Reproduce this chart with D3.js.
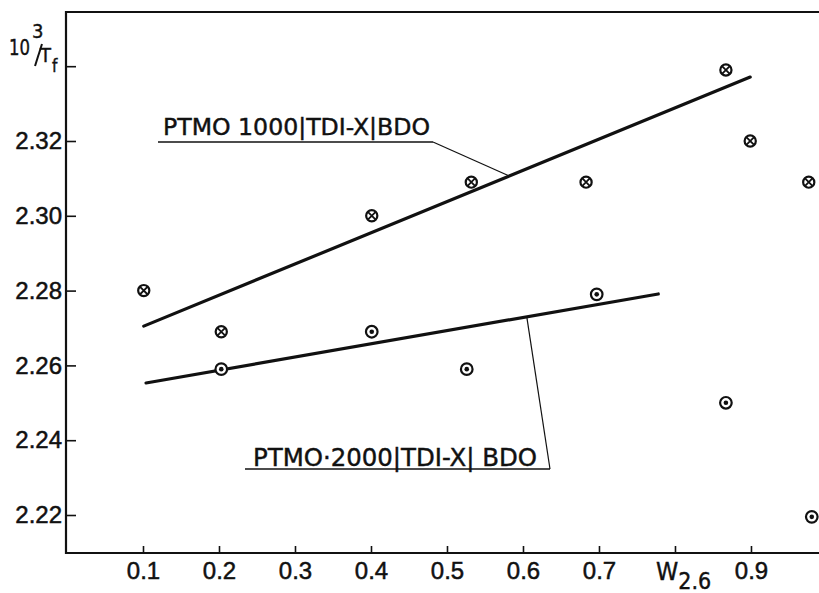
<!DOCTYPE html>
<html lang="en">
<head>
  <meta charset="utf-8">
  <title>PTMO chart</title>
  <script src="https://d3js.org/d3.v7.min.js"></script>
  <style>
  body { margin: 0; background: #fff; }
  svg { display: block; font-family: "DejaVu Sans Condensed", "Liberation Sans Narrow", "DejaVu Sans", sans-serif; }
  .tick text { font-size: 24px; fill: #111; stroke: #111; stroke-width: 0.5px; }
  .tick line { stroke: #111; stroke-width: 1.6px; }
  .frame { stroke: #111; stroke-width: 2.2px; fill: none; }
  .fit { stroke: #111; stroke-width: 3.2px; stroke-linecap: round; }
  .lead { stroke: #111; stroke-width: 1.2px; }
  .mark { fill: none; stroke: #111; stroke-width: 2.2px; }
  .lbl { font-size: 23px; fill: #111; stroke: #111; stroke-width: 0.4px; }
  </style>
</head>
<body>
<script>

// PTMO 1000 | TDI-X | BDO  (crossed circles)
var x1000 = [0.101, 0.203, 0.401, 0.532, 0.683, 0.867, 0.899, 0.976];
var y1000 = [2.280, 2.269, 2.300, 2.309, 2.309, 2.339, 2.320, 2.309];

// PTMO 2000 | TDI-X | BDO  (dotted circles)
var x2000 = [0.203, 0.401, 0.526, 0.697, 0.867, 0.980];
var y2000 = [2.259, 2.269, 2.259, 2.279, 2.250, 2.2195];

// fitted lines, start and end
var fitX1000 = [0.101, 0.899];
var fitY1000 = [2.2705, 2.3371];
var fitX2000 = [0.104, 0.778];
var fitY2000 = [2.2553, 2.2791];

var xTicks = [0.1, 0.2, 0.3, 0.4, 0.5, 0.6, 0.7, 0.8, 0.9];
var yTicks = [2.22, 2.24, 2.26, 2.28, 2.30, 2.32, 2.34];

var label1000 = "PTMO 1000|TDI-X|BDO";
var label2000 = "PTMO\u00B72000|TDI-X| BDO";

var width = 819, height = 593;

var x = d3.scaleLinear().domain([0, 0.9895]).range([67, 819]);
var y = d3.scaleLinear().domain([2.20984, 2.35449]).range([553, 12]);

var svg = d3.select("body").append("svg")
    .attr("width", width)
    .attr("height", height);

// axes
var yAxis = d3.axisLeft(y)
    .tickValues(yTicks)
    .tickSizeInner(-10)
    .tickSizeOuter(0)
    .tickPadding(4)
    .tickFormat(function(d) { return d > 2.335 ? "" : d3.format(".2f")(d); });

var xAxis = d3.axisBottom(x)
    .tickValues(xTicks)
    .tickSizeInner(-7)
    .tickSizeOuter(0)
    .tickPadding(9)
    .tickFormat(function(d) { return Math.abs(d - 0.8) < 1e-6 ? "" : d3.format(".1f")(d); });

svg.append("g").attr("transform", "translate(66,0)").call(yAxis)
    .call(function(g) { g.select(".domain").remove(); });
svg.append("g").attr("transform", "translate(0,553)").call(xAxis)
    .call(function(g) { g.select(".domain").remove(); });

// frame: top, left, bottom
svg.append("path").attr("class", "frame")
    .attr("d", "M819,12H66V553H819");

// axis titles
var wt = svg.append("text").attr("class", "lbl")
    .attr("x", 656).attr("y", 580).style("font-size", "25px");
wt.append("tspan").text("W");
wt.append("tspan").attr("dy", 9).style("font-size", "23px").text("2.6");

var yt = svg.append("g");
yt.append("text").attr("class", "lbl").attr("x", 9).attr("y", 55).style("font-size", "22px")
    .attr("textLength", 21).attr("lengthAdjust", "spacingAndGlyphs").text("10");
yt.append("text").attr("class", "lbl").attr("x", 32).attr("y", 38).style("font-size", "20px").text("3");
yt.append("line").attr("class", "lead").style("stroke-width", 2)
    .attr("x1", 35).attr("y1", 66).attr("x2", 42).attr("y2", 44);
yt.append("text").attr("class", "lbl").attr("x", 40).attr("y", 62).style("font-size", "20px").text("T");
yt.append("text").attr("class", "lbl").attr("x", 52).attr("y", 72).style("font-size", "17px").text("f");

// fitted lines
svg.append("line").attr("class", "fit")
    .attr("x1", x(fitX1000[0])).attr("y1", y(fitY1000[0]))
    .attr("x2", x(fitX1000[1])).attr("y2", y(fitY1000[1]));
svg.append("line").attr("class", "fit")
    .attr("x1", x(fitX2000[0])).attr("y1", y(fitY2000[0]))
    .attr("x2", x(fitX2000[1])).attr("y2", y(fitY2000[1]));

// crossed circles
var d1 = x1000.map(function(v, i) { return [v, y1000[i]]; });
var g1 = svg.selectAll(".p1").data(d1).enter().append("g")
    .attr("class", "p1")
    .attr("transform", function(d) { return "translate(" + x(d[0]) + "," + y(d[1]) + ")"; });
g1.append("circle").attr("class", "mark").attr("r", 5.6).style("fill", "#fff");
g1.append("path").attr("class", "mark").style("stroke-width", 1.8)
    .attr("d", "M-3.9,-3.9L3.9,3.9M-3.9,3.9L3.9,-3.9");

// dotted circles
var d2 = x2000.map(function(v, i) { return [v, y2000[i]]; });
var g2 = svg.selectAll(".p2").data(d2).enter().append("g")
    .attr("class", "p2")
    .attr("transform", function(d) { return "translate(" + x(d[0]) + "," + y(d[1]) + ")"; });
g2.append("circle").attr("class", "mark").attr("r", 5.8).style("fill", "#fff");
g2.append("circle").attr("r", 2.3).style("fill", "#111");

// labels with underline and leader
svg.append("text").attr("class", "lbl")
    .attr("x", 163).attr("y", 135)
    .attr("textLength", 267).attr("lengthAdjust", "spacingAndGlyphs")
    .text(label1000);
svg.append("line").attr("class", "lead").style("stroke-width", 1.6)
    .attr("x1", 158).attr("y1", 142).attr("x2", 433).attr("y2", 142);
svg.append("line").attr("class", "lead")
    .attr("x1", 433).attr("y1", 142)
    .attr("x2", x(0.582)).attr("y2", y(fitY1000[0] + (0.582 - fitX1000[0]) * (fitY1000[1] - fitY1000[0]) / (fitX1000[1] - fitX1000[0])));

svg.append("text").attr("class", "lbl")
    .attr("x", 253).attr("y", 466).style("font-size", "25px")
    .attr("textLength", 284).attr("lengthAdjust", "spacingAndGlyphs")
    .text(label2000);
svg.append("line").attr("class", "lead").style("stroke-width", 1.6)
    .attr("x1", 245).attr("y1", 469).attr("x2", 550).attr("y2", 469);
svg.append("line").attr("class", "lead")
    .attr("x1", 550).attr("y1", 469)
    .attr("x2", x(0.605)).attr("y2", y(fitY2000[0] + (0.605 - fitX2000[0]) * (fitY2000[1] - fitY2000[0]) / (fitX2000[1] - fitX2000[0])));

</script>
</body>
</html>
